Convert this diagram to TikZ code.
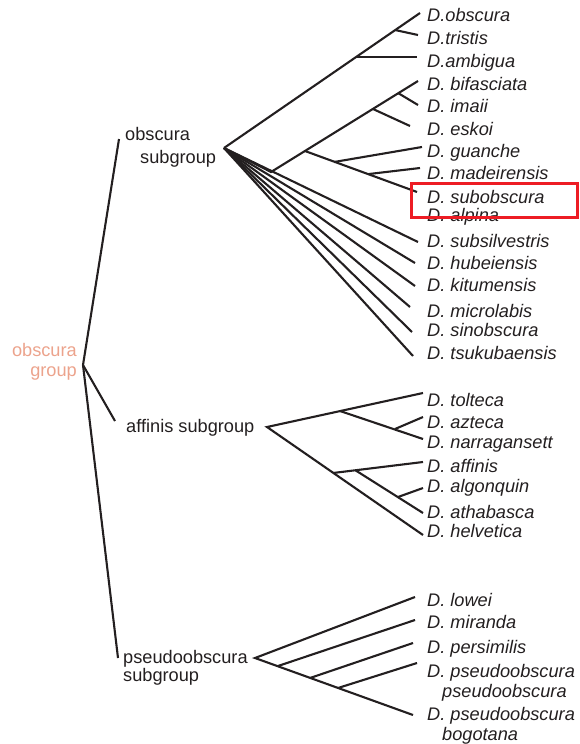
\documentclass[tikz,border=0pt]{standalone}
\usepackage{fontspec}
\setmainfont{Liberation Sans}
\definecolor{ink}{HTML}{231F20}
\definecolor{salmon}{HTML}{ECA38C}
\definecolor{boxred}{HTML}{ED1C24}
\begin{document}
\begin{tikzpicture}[x=1pt,y=-1pt,
  br/.style={draw=ink,line width=2.1pt,line cap=butt,line join=miter},
  sp/.style={anchor=base west,inner sep=0pt,text=ink,font=\fontsize{18.2}{20}\selectfont\itshape},
  grp/.style={anchor=base west,inner sep=0pt,text=ink,font=\fontsize{18.2}{20}\selectfont},
  sal/.style={anchor=base east,inner sep=0pt,text=salmon,font=\fontsize{18.2}{20}\selectfont}]
\useasboundingbox (0,0) rectangle (580,744);
% ---------- main tree
\coordinate (R0) at (83,365);
\coordinate (T1) at (119,139);
\coordinate (T2) at (115,421);
\coordinate (T3) at (118,658);
\draw[br] (T1) -- (R0) -- (T3);
\draw[br] (R0) -- (T2);
\node[sal] (og1) at (77,356) {obscura};
\node[sal] (og2) at (77,376) {group};
\node[grp] (os1) at (125,140) {obscura};
\node[grp] (os2) at (140,163) {subgroup};
\node[grp] (as) at (126,432) {affinis subgroup};
\node[grp] (ps1) at (123,663) {pseudoobscura};
\node[grp] (ps2) at (123,681) {subgroup};
% ---------- obscura subgroup
\coordinate (S1) at (224,148);
\coordinate (A1) at (357,57);
\coordinate (A2) at (395,30);
\coordinate (tObs) at (420,13);
\coordinate (tTri) at (418,35);
\coordinate (tAmb) at (417,57);
\draw[br] (S1) -- (tObs);
\draw[br] (A1) -- (tAmb);
\draw[br] (A2) -- (tTri);
\coordinate (B0) at (271,172);
\coordinate (C1) at (305,151);
\coordinate (D1) at (373,109);
\coordinate (D2) at (398,93);
\coordinate (tBif) at (418,81);
\coordinate (tIma) at (418,105);
\coordinate (tEsk) at (410,126);
\draw[br] (S1) -- (B0) -- (tBif);
\draw[br] (D2) -- (tIma);
\draw[br] (D1) -- (tEsk);
\coordinate (C2) at (334,162);
\coordinate (C3) at (369,174);
\coordinate (tGua) at (422,147);
\coordinate (tMad) at (420,168);
\coordinate (tSub) at (417,192);
\draw[br] (C1) -- (tSub);
\draw[br] (C2) -- (tGua);
\draw[br] (C3) -- (tMad);
\coordinate (tSsv) at (418,242);
\coordinate (tHub) at (415,263);
\coordinate (tKit) at (415,286);
\coordinate (tMic) at (410,307);
\coordinate (tSin) at (412,332);
\coordinate (tTsu) at (413,356);
\foreach \t in {tSsv,tHub,tKit,tMic,tSin,tTsu} \draw[br] (S1) -- (\t);
\node[sp] (nObs) at (427,21) {D.obscura};
\node[sp] (nTri) at (427,44) {D.tristis};
\node[sp] (nAmb) at (427,67) {D.ambigua};
\node[sp] (nBif) at (427,90) {D. bifasciata};
\node[sp] (nIma) at (427,112) {D. imaii};
\node[sp] (nEsk) at (427,135) {D. eskoi};
\node[sp] (nGua) at (427,157) {D. guanche};
\node[sp] (nMad) at (427,179) {D. madeirensis};
\node[sp] (nSub) at (427,203) {D. subobscura};
\node[sp] (nAlp) at (427,221) {D. alpina};
\node[sp] (nSsv) at (427,247) {D. subsilvestris};
\node[sp] (nHub) at (427,269) {D. hubeiensis};
\node[sp] (nKit) at (427,291) {D. kitumensis};
\node[sp] (nMic) at (427,317) {D. microlabis};
\node[sp] (nSin) at (427,336) {D. sinobscura};
\node[sp] (nTsu) at (427,359) {D. tsukubaensis};
% ---------- affinis subgroup
\coordinate (F0) at (267,427);
\coordinate (F1) at (340,411);
\coordinate (F2) at (395,429);
\coordinate (G1) at (333,473);
\coordinate (G2) at (355,470);
\coordinate (G3) at (398,497);
\coordinate (tTol) at (423,393);
\coordinate (tAzt) at (423,417);
\coordinate (tNar) at (423,439);
\coordinate (tAff) at (423,462);
\coordinate (tAlg) at (423,488);
\coordinate (tAth) at (423,513);
\coordinate (tHel) at (423,535);
\draw[br] (tTol) -- (F0) -- (tHel);
\draw[br] (F1) -- (tNar);
\draw[br] (F2) -- (tAzt);
\draw[br] (G1) -- (tAff);
\draw[br] (G2) -- (tAth);
\draw[br] (G3) -- (tAlg);
\node[sp] (nTol) at (427,406) {D. tolteca};
\node[sp] (nAzt) at (427,428) {D. azteca};
\node[sp] (nNar) at (427,448) {D. narragansett};
\node[sp] (nAff) at (427,472) {D. affinis};
\node[sp] (nAlg) at (427,492) {D. algonquin};
\node[sp] (nAth) at (427,518) {D. athabasca};
\node[sp] (nHel) at (427,537) {D. helvetica};
% ---------- pseudoobscura subgroup
\coordinate (P0) at (255,658);
\coordinate (P1) at (278,666);
\coordinate (P2) at (310,678);
\coordinate (P3) at (338,688);
\coordinate (tLow) at (415,597);
\coordinate (tMir) at (415,620);
\coordinate (tPer) at (413,643);
\coordinate (tPps) at (417,663);
\coordinate (tBog) at (413,715);
\draw[br] (tLow) -- (P0) -- (tBog);
\draw[br] (P1) -- (tMir);
\draw[br] (P2) -- (tPer);
\draw[br] (P3) -- (tPps);
\node[sp] (nLow) at (427,606) {D. lowei};
\node[sp] (nMir) at (427,628) {D. miranda};
\node[sp] (nPer) at (427,653) {D. persimilis};
\node[sp] (nPp1) at (427,677) {D. pseudoobscura};
\node[sp] (nPp2) at (442,697) {pseudoobscura};
\node[sp] (nBo1) at (427,720) {D. pseudoobscura};
\node[sp] (nBo2) at (442,740) {bogotana};
% ---------- highlight box
\draw[boxred,line width=3pt] (411,183) rectangle (577,217);
\end{tikzpicture}
\end{document}
